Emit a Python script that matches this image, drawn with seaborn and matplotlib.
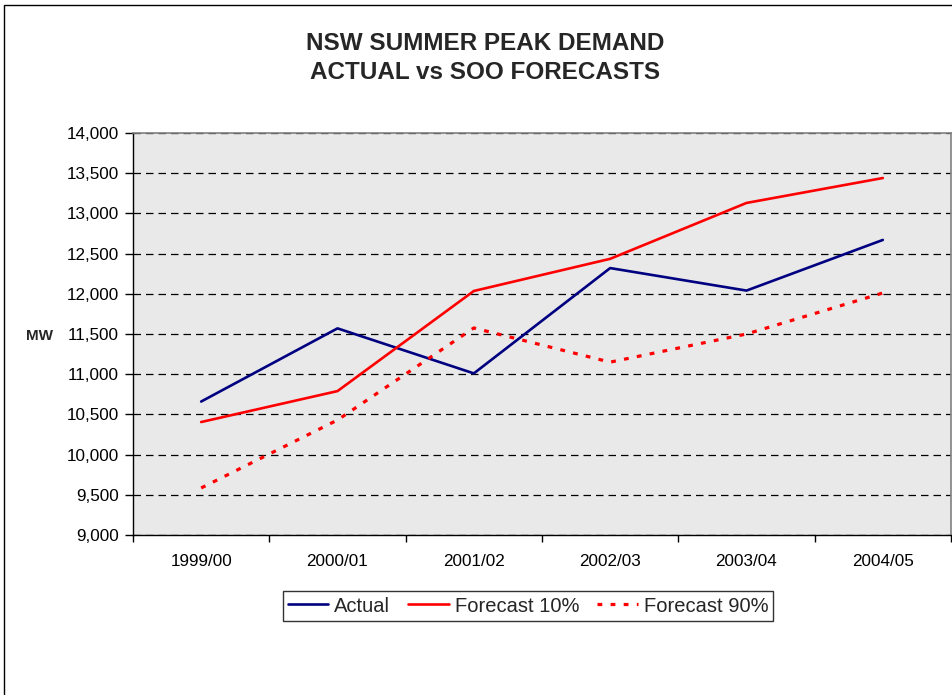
import pandas as pd
import matplotlib.pyplot as plt
import matplotlib.patches as mpatches
import seaborn as sns

periods = ['1999/00', '2000/01', '2001/02', '2002/03', '2003/04', '2004/05']
actual = [10660, 11570, 11010, 12320, 12040, 12670]
forecast_10 = [10405, 10790, 12035, 12435, 13130, 13440]
forecast_90 = [9585, 10430, 11575, 11150, 11500, 12010]
series_names = ['Actual', 'Forecast 10%', 'Forecast 90%']

df = pd.DataFrame({
    'period': periods * 3,
    'MW': actual + forecast_10 + forecast_90,
    'series': [s for s in series_names for _ in periods],
})

sns.set_theme(style='white')
plt.rcParams['font.family'] = ['Liberation Sans', 'DejaVu Sans']

fig = plt.figure(figsize=(9.53, 6.95), dpi=100)
ax = fig.add_axes([133 / 953, 1 - 535 / 695, 818 / 953, 402 / 695])
ax.set_facecolor('#e9e9e9')

palette = {'Actual': '#000080', 'Forecast 10%': '#ff0000', 'Forecast 90%': '#ff0000'}
dashes = {'Actual': '', 'Forecast 10%': '', 'Forecast 90%': (1.5, 2.6)}
sns.lineplot(data=df, x='period', y='MW', hue='series', style='series',
             palette=palette, dashes=dashes, sort=False, linewidth=1.9,
             legend=False, ax=ax)

# the dotted series is drawn a bit heavier
for line in ax.lines[2:]:
    line.set_linewidth(2.3)

ax.set_xlim(-0.5, len(periods) - 0.5)
ax.set_ylim(9000, 14000)
ax.set_yticks(range(9000, 14001, 500))
ax.set_yticklabels([f'{v:,}' for v in range(9000, 14001, 500)], fontsize=12.3)
ax.set_xticks(range(len(periods)))
ax.set_xticklabels(periods, fontsize=12.3)
ax.set_xticks([i - 0.5 for i in range(len(periods) + 1)], minor=True)
ax.tick_params(axis='x', which='major', length=0, pad=14, labelcolor='black')
ax.tick_params(axis='x', which='minor', length=5, width=1, color='black', bottom=True)
ax.tick_params(axis='y', length=6, width=1, color='black', left=True, pad=4,
               labelcolor='black')

ax.set_axisbelow(True)
ax.yaxis.grid(True, linestyle=(0, (6, 4)), color='black', linewidth=0.9)
ax.xaxis.grid(False)

for side in ['top', 'right']:
    ax.spines[side].set_color('#808080')
    ax.spines[side].set_linewidth(1.2)
for side in ['left', 'bottom']:
    ax.spines[side].set_color('black')
    ax.spines[side].set_linewidth(1.0)

ax.set_xlabel('')
ax.set_ylabel('MW', fontsize=11, fontweight='bold', rotation=0,
              ha='center', va='center')
ax.yaxis.set_label_coords(-93 / 818, (535 - 336) / 402)

fig.text(485 / 953, 1 - 58 / 695, 'NSW SUMMER PEAK DEMAND\nACTUAL vs SOO FORECASTS',
         ha='center', va='center', fontsize=17.5, fontweight='bold', linespacing=1.3)

handles = [ax.lines[i] for i in range(3)]
leg = fig.legend(handles, series_names, loc='center', ncol=3,
                 bbox_to_anchor=(528 / 953, 1 - 606 / 695), fontsize=14.5,
                 frameon=True, fancybox=False, edgecolor='black',
                 handlelength=2.0, handletextpad=0.3, columnspacing=0.9,
                 borderpad=0.25)
leg.get_frame().set_linewidth(1.0)

# outer chart border (left and top visible)
fig.patches.append(mpatches.Rectangle((4 / 953, -0.05), 1.1, 1 - 5 / 695 + 0.05,
                                      transform=fig.transFigure, fill=False,
                                      edgecolor='black', linewidth=1.0))

fig.savefig('out.png', dpi=100)
